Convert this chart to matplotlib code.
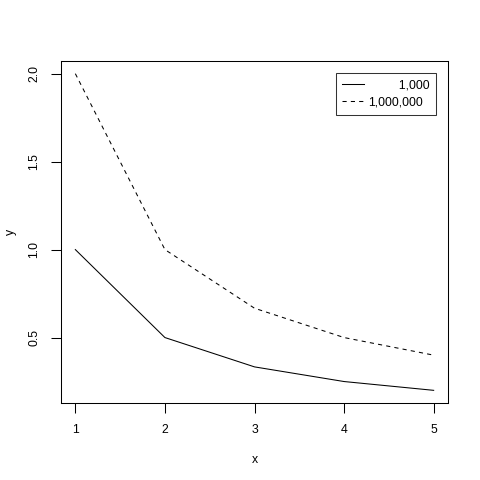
import matplotlib.pyplot as plt

x = [1, 2, 3, 4, 5]
y_1k = [1.0, 0.5, 0.3333, 0.25, 0.2]
y_1m = [2.0, 1.0, 0.6667, 0.5, 0.4]
legend_labels = ["\u2007\u2007\u2007\u2008\u20071,000", "1,000,000"]

plt.rcParams['font.family'] = ['Liberation Sans', 'DejaVu Sans']
fs = 8.8

fig = plt.figure(figsize=(4.8, 4.8), dpi=100)
ax = fig.add_axes([61 / 480, 77 / 480, 387 / 480, 342 / 480])

ax.plot(x, y_1k, color='black', lw=0.75, label=legend_labels[0])
ax.plot(x, y_1m, color='black', lw=0.75, linestyle=(0, (4, 4)), label=legend_labels[1])

ax.set_xlim(0.84, 5.16)
ax.set_ylim(0.128, 2.072)
ax.set_xticks(x)
ax.set_yticks([0.5, 1.0, 1.5, 2.0])
ax.set_yticklabels(['0.5', '1.0', '1.5', '2.0'], rotation=90, va='center')
ax.tick_params(direction='out', length=7, width=0.75, labelsize=fs, pad=8)
for s in ax.spines.values():
    s.set_linewidth(0.75)

ax.set_xlabel('x', fontsize=fs, labelpad=13)
ax.set_ylabel('y', fontsize=fs, labelpad=8)

leg = ax.legend(loc='upper right', bbox_to_anchor=(0.969, 0.965), fontsize=fs,
                frameon=True, fancybox=False, edgecolor='black', borderpad=0.52,
                handlelength=1.8, handletextpad=0.3, labelspacing=0.4, borderaxespad=0)
leg.get_frame().set_linewidth(0.75)

fig.savefig('out.png', dpi=100)
